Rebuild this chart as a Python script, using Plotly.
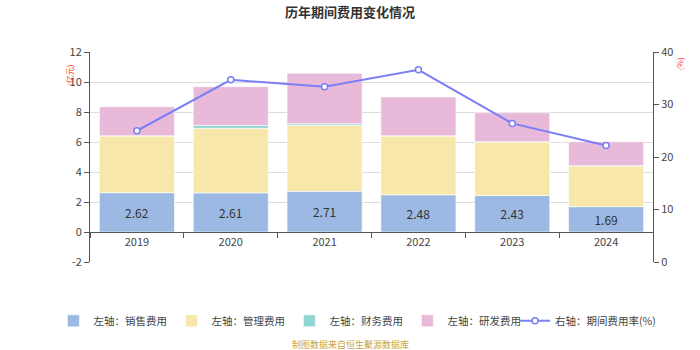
import plotly.graph_objects as go

years = ["2019", "2020", "2021", "2022", "2023", "2024"]
sales = [2.62, 2.61, 2.71, 2.48, 2.43, 1.69]
mgmt = [3.78, 4.30, 4.40, 3.92, 3.57, 2.71]
finance = [0.02, 0.20, 0.11, 0.02, 0.02, 0.02]
rnd = [1.93, 2.58, 3.36, 2.58, 1.93, 1.60]
rate = [25.0, 34.7, 33.4, 36.6, 26.4, 22.2]
left_ticks = [-2, 0, 2, 4, 6, 8, 10, 12]
left_tick_labels = ["-2", "0", "2", "4", "6", "8", "10", "12"]

font_family = "Noto Sans CJK SC, Noto Sans, sans-serif"

fig = go.Figure()
bar_specs = [
    ("左轴：销售费用", sales, "#9bb9e2"),
    ("左轴：管理费用", mgmt, "#f7e7aa"),
    ("左轴：财务费用", finance, "#92d6d4"),
    ("左轴：研发费用", rnd, "#e8b9d9"),
]
for name, vals, col in bar_specs:
    kw = {}
    if vals is sales:
        kw = dict(text=[f"{v:.2f}" for v in vals], textposition="inside",
                  insidetextanchor="middle",
                  textfont=dict(size=12, color="#333333", family=font_family))
    fig.add_trace(go.Bar(
        x=years, y=vals, name=name, legend="legend",
        marker=dict(color=col, line=dict(color="rgba(255,255,255,0.6)", width=1)),
        width=0.8, hoverinfo="y", **kw))

fig.add_trace(go.Scatter(
    x=years, y=rate, name="右轴：期间费用率(%)", yaxis="y2", legend="legend2",
    mode="lines+markers",
    line=dict(color="#7b7ff5", width=2),
    marker=dict(symbol="circle", size=6, color="white",
                line=dict(color="#7b7ff5", width=1.5))))

fig.update_layout(
    width=700, height=350,
    margin=dict(l=90, r=47, t=52, b=88, autoexpand=False),
    paper_bgcolor="white", plot_bgcolor="white",
    barmode="relative", bargap=0.2,
    font=dict(family=font_family, size=11, color="#444444"),
    title=dict(text="<b>历年期间费用变化情况</b>", x=0.5, xanchor="center",
               y=0.965, yanchor="middle",
               font=dict(size=13, color="#333333")),
    xaxis=dict(type="category", anchor="free", position=2/14,
               showline=True, linecolor="#555555", linewidth=1,
               ticks="outside", tickson="boundaries", ticklen=5,
               tickcolor="#555555", showgrid=False,
               tickfont=dict(size=11, color="#444444")),
    yaxis=dict(range=[-2, 12], tickvals=left_ticks, ticktext=left_tick_labels,
               showline=True, linecolor="#555555",
               ticks="outside", ticklen=5, tickcolor="#555555",
               showgrid=True, gridcolor="#dddddd", zeroline=False,
               tickfont=dict(size=11, color="#444444")),
    yaxis2=dict(range=[0, 40], dtick=10, overlaying="y", side="right",
                showline=True, linecolor="#555555", ticks="outside",
                ticklen=5, tickcolor="#555555", showgrid=False,
                zeroline=False, tickfont=dict(size=11, color="#444444")),
    legend=dict(orientation="h", x=-0.065, xanchor="left", y=-0.28,
                yanchor="middle", font=dict(size=10.5, color="#444444"),
                itemwidth=30, traceorder="normal", tracegroupgap=0,
                entrywidth=73, entrywidthmode="pixels",
                bgcolor="rgba(0,0,0,0)"),
    legend2=dict(orientation="h", x=0.755, xanchor="left", y=-0.28,
                 yanchor="middle", font=dict(size=10.5, color="#444444"),
                 itemwidth=30, bgcolor="rgba(0,0,0,0)"),
    showlegend=True,
)

fig.add_annotation(text="(亿元)", xref="paper", yref="paper",
                   x=0, xshift=-28, y=0.948, showarrow=False, textangle=-90,
                   font=dict(size=8, color="#ff3333"))
fig.add_annotation(text="(%)", xref="paper", yref="paper",
                   x=1, xshift=34, y=0.985, showarrow=False, textangle=-90,
                   font=dict(size=8, color="#ff3333"))
fig.add_annotation(text="制图数据来自恒生聚源数据库", xref="paper", yref="paper",
                   x=0.462, y=-0.395, showarrow=False, xanchor="center",
                   yanchor="middle", font=dict(size=9, color="#c9a43f"))

fig.write_html("out.html")
